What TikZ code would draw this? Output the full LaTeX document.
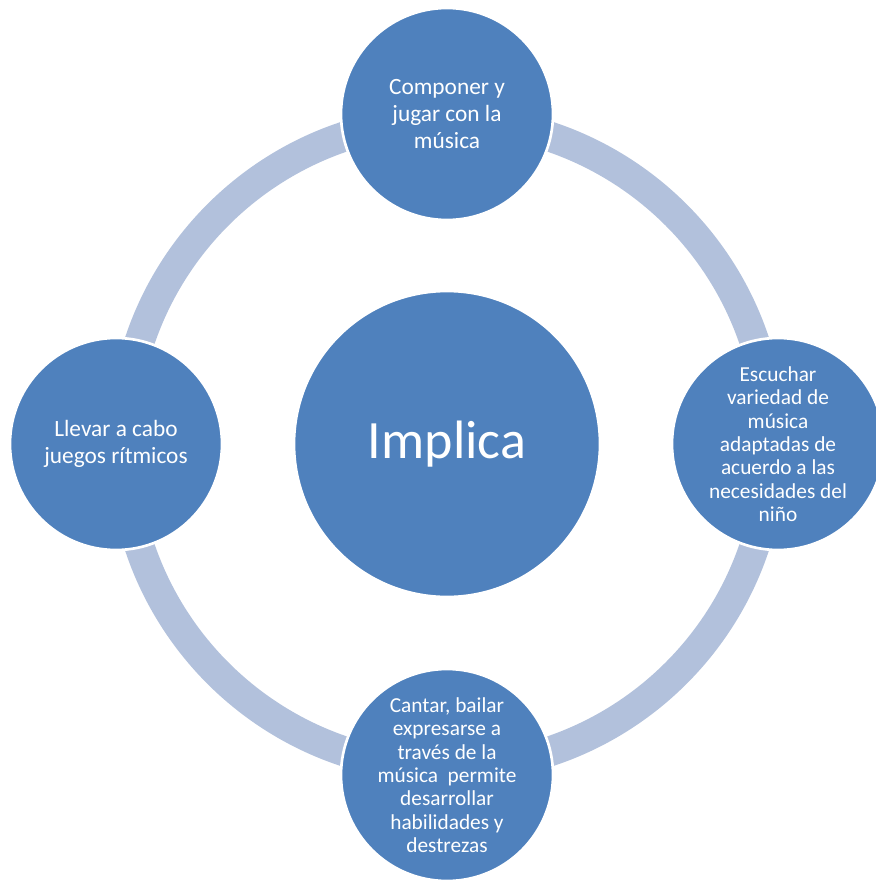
\documentclass[tikz,border=0pt]{standalone}
\usepackage{fontspec}
\setmainfont{Carlito}
\usetikzlibrary{positioning}
\definecolor{circfill}{RGB}{79,129,189}
\definecolor{ringcol}{RGB}{178,193,220}

\begin{document}
\begin{tikzpicture}[x=0.75pt,y=-0.75pt]
		\tikzset{
			outer/.style={circle,fill=circfill,draw=white,line width=2pt,
				minimum size=159pt,inner sep=0pt,align=center,text=white,
				font=\fontsize{16}{17.5}\selectfont},
			bigtext/.style={font=\fontsize{17.5}{20}\selectfont},
			hub/.style={outer,minimum size=229.5pt,font=\fontsize{40.5}{48}\selectfont},
			ring/.style={draw=ringcol,line width=22.5pt}
		}
		\useasboundingbox (0,0) rectangle (875,880);
		\coordinate (mid) at (447,444);
		\draw[ring] (mid) circle[radius=324];
		\node[hub] (implica) at (mid) {Implica};
		\node[outer,bigtext] (compose) at (447,114) {Componer y\\jugar con la\\música};
		\node[outer] (listen) at (778,444)
					{Escuchar\\variedad de\\música\\adaptadas de\\acuerdo a las\\necesidades del\\niño};
		\node[outer] (sing) at (447,775)
					{Cantar, bailar\\expresarse a\\través de la\\música\ \ permite\\desarrollar\\habilidades y\\destrezas};
		\node[outer,bigtext] (rhythm) at (116,444) {Llevar a cabo\\juegos rítmicos};
\end{tikzpicture}
\end{document}
